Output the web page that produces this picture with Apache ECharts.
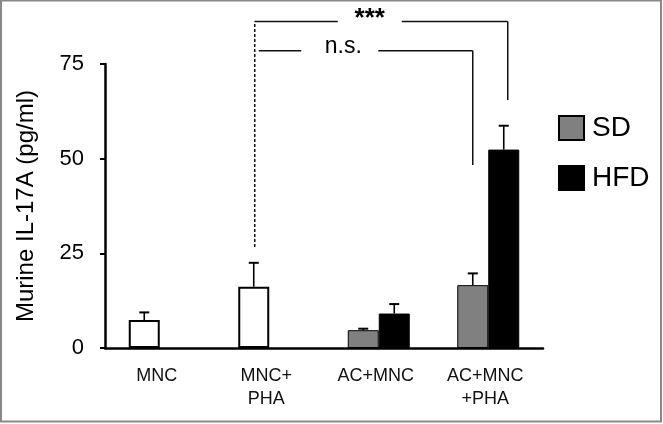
<!DOCTYPE html>
<html>
<head>
<meta charset="utf-8">
<script src="https://cdn.jsdelivr.net/npm/echarts@6/dist/echarts.min.js"></script>
<style>
  html, body { margin: 0; padding: 0; background: #fff; }
  #chart { width: 663px; height: 424px; }
</style>
</head>
<body>
<div id="chart"></div>
<script>
  // data
  const categories = ['MNC', 'MNC+\nPHA', 'AC+MNC', 'AC+MNC\n+PHA']
  const controlValues = [7.4, 16.2, '-', '-']
  const controlErr = [9.4, 22.5, '-', '-']
  const sdValues = ['-', '-', 4.7, 16.6]
  const sdErr = ['-', '-', 5.1, 19.7]
  const hfdValues = ['-', '-', 9.1, 52.4]
  const hfdErr = ['-', '-', 11.6, 58.7]
  const yTicks = [0, 25, 50, 75]

  const font = 'Liberation Sans, Arial, Helvetica, sans-serif'
  const barW = 31

  // error bar (upward only) drawn on top of a bar slot
  function errSeries(values, errs, slot) {
    const data = []
    values.forEach((v, i) => {
      if (v !== '-') data.push([i, errs[i], v])
    })
    return {
      type: 'custom',
      data: data,
      encode: { x: 0, y: 1 },
      z: 5,
      silent: true,
      renderItem: function(params, api) {
        const top = api.coord([api.value(0), api.value(1)])
        const base = api.coord([api.value(0), api.value(2)])
        const x = top[0] + slot * barW / 2
        return {
          type: 'group',
          children: [
            { type: 'line', shape: { x1: x, y1: base[1], x2: x, y2: top[1] }, style: { stroke: '#000', lineWidth: 1.6 } },
            { type: 'line', shape: { x1: x - 5, y1: top[1], x2: x + 5, y2: top[1] }, style: { stroke: '#000', lineWidth: 2 } }
          ]
        }
      }
    }
  }

  const chart = echarts.init(document.getElementById('chart'))
  chart.setOption({
    animation: false,
    backgroundColor: '#fff',
    grid: { left: 105, right: 120, top: 64, bottom: 76 },
    legend: {
      data: ['SD', 'HFD'],
      orient: 'vertical',
      left: 553,
      top: 109,
      icon: 'rect',
      itemWidth: 25,
      itemHeight: 24,
      itemGap: 22,
      textStyle: { fontFamily: font, fontSize: 28, color: '#000', padding: [0, 0, 0, 3] }
    },
    xAxis: {
      type: 'category',
      data: categories,
      axisLine: { lineStyle: { color: '#000', width: 2.5 } },
      axisTick: { show: false },
      axisLabel: { margin: 17, fontFamily: font, fontSize: 18, lineHeight: 23, color: '#111', padding: [0, 6, 0, 0] }
    },
    yAxis: {
      type: 'value',
      min: yTicks[0],
      max: yTicks[yTicks.length - 1],
      interval: 25,
      name: 'Murine IL-17A (pg/ml)',
      nameLocation: 'middle',
      nameGap: 67,
      nameTextStyle: { fontFamily: font, fontSize: 24, color: '#000' },
      axisLine: { show: true, lineStyle: { color: '#000', width: 2.5 } },
      axisTick: { show: true, length: 5, lineStyle: { color: '#000', width: 2 } },
      axisLabel: { margin: 21, fontFamily: font, fontSize: 22, color: '#000' },
      splitLine: { show: false }
    },
    series: [
      {
        name: 'control',
        type: 'bar',
        stack: 'left',
        data: controlValues,
        barWidth: barW,
        barGap: '0%',
        itemStyle: { color: '#fff', borderColor: '#000', borderWidth: 2 }
      },
      {
        name: 'SD',
        type: 'bar',
        stack: 'left',
        data: sdValues,
        barWidth: barW,
        barGap: '0%',
        itemStyle: { color: '#808080', borderColor: '#000', borderWidth: 1 }
      },
      {
        name: 'HFD',
        type: 'bar',
        data: hfdValues,
        barWidth: barW,
        barGap: '0%',
        itemStyle: { color: '#000', borderColor: '#000', borderWidth: 1 }
      },
      errSeries(controlValues, controlErr, -1),
      errSeries(sdValues, sdErr, -1),
      errSeries(hfdValues, hfdErr, 1)
    ]
  })

  // significance brackets, placed from the axes
  function px(cat, slot, val) {
    const p = chart.convertToPixel({ xAxisIndex: 0, yAxisIndex: 0 }, [cat, val])
    return [p[0] + slot * barW / 2, p[1]]
  }
  const lineStyle = { stroke: '#111', lineWidth: 1.5 }
  const graphics = []

  // *** : MNC+PHA (dashed) vs AC+MNC+PHA HFD
  const a0 = px(1, -1, 26.7)
  const aTop = px(1, -1, 86.2)
  const a1 = px(3, 1, 86.2)
  const a2 = px(3, 1, 65.5)
  const aTextX = (aTop[0] + a1[0] + 8) / 2 - 13
  graphics.push(
    { type: 'line', shape: { x1: a0[0] + 1, y1: a0[1], x2: aTop[0] + 1, y2: aTop[1] }, style: Object.assign({ lineDash: [3, 2] }, lineStyle) },
    { type: 'line', shape: { x1: aTop[0] + 1, y1: aTop[1], x2: aTextX - 32, y2: aTop[1] }, style: lineStyle },
    { type: 'line', shape: { x1: aTextX + 32, y1: aTop[1], x2: a1[0] + 4, y2: a1[1] }, style: lineStyle },
    { type: 'line', shape: { x1: a1[0] + 4, y1: a1[1], x2: a2[0] + 4, y2: a2[1] }, style: lineStyle },
    { type: 'text', x: aTextX, y: aTop[1] - 3, style: { text: '***', fontFamily: font, fontSize: 26, fontWeight: 'bold', fill: '#000', align: 'center', verticalAlign: 'middle' } }
  )

  // n.s. : MNC+PHA vs AC+MNC+PHA SD
  const bTop = px(1, -1, 78.5)
  const b1 = px(3, -1, 78.5)
  const b2 = px(3, -1, 48.3)
  const bTextX = (bTop[0] + b1[0]) / 2 - 20
  graphics.push(
    { type: 'line', shape: { x1: bTop[0] + 5, y1: bTop[1], x2: bTextX - 42, y2: bTop[1] }, style: lineStyle },
    { type: 'line', shape: { x1: bTextX + 35, y1: bTop[1], x2: b1[0], y2: b1[1] }, style: lineStyle },
    { type: 'line', shape: { x1: b1[0], y1: b1[1], x2: b2[0], y2: b2[1] }, style: lineStyle },
    { type: 'text', x: bTextX, y: bTop[1] - 4, style: { text: 'n.s.', fontFamily: font, fontSize: 23, fill: '#000', align: 'center', verticalAlign: 'middle' } }
  )

  // thin grey frame round the figure
  graphics.push({ type: 'rect', shape: { x: 1, y: 0.5, width: 660, height: 421 }, style: { fill: 'none', stroke: '#888', lineWidth: 2 }, z: 100 })

  chart.setOption({ graphic: graphics })
</script>
</body>
</html>
